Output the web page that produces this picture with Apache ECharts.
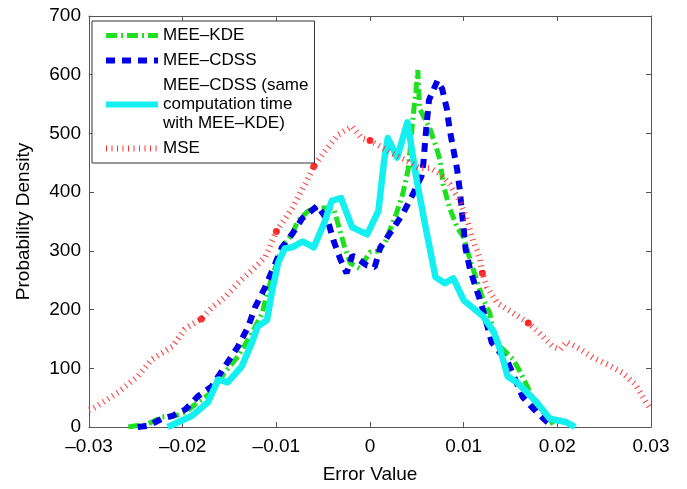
<!DOCTYPE html>
<html lang="en">

<head>
    <meta charset="UTF-8">
    <script src="https://cdn.jsdelivr.net/npm/echarts@6/dist/echarts.min.js"></script>
    <title>Error distribution</title>
    <style>
        html, body { margin: 0; padding: 0; background: #fff; }
        #myChart { width: 687px; height: 489px; }
    </style>
</head>

<body>
    <div id="myChart"></div>
    <script>
        // values
        var kdeX = [-0.0258, -0.0250, -0.0240, -0.0222, -0.0208, -0.0197, -0.0184, -0.0169, -0.0155, -0.0141, -0.0126, -0.0115, -0.0110, -0.0101, -0.0094, -0.0083, -0.0077, -0.0066, -0.0056, -0.0039, -0.0035, -0.0032, -0.0027, -0.0021, -0.0011, 0.0000, 0.0010, 0.0017, 0.0028, 0.0035, 0.0041, 0.0046, 0.0049, 0.0051, 0.0053, 0.0064, 0.0071, 0.0075, 0.0078, 0.0085, 0.0093, 0.0100, 0.0107, 0.0114, 0.0121, 0.0128, 0.0131, 0.0139, 0.0153, 0.0160, 0.0168, 0.0178, 0.0192, 0.0197];
        var kdeY = [0, 2, 3, 17, 19, 25, 42, 59, 93, 120, 160, 194, 228, 272, 306, 329, 351, 368, 373, 373, 351, 334, 306, 279, 270, 298, 300, 318, 363, 397, 441, 529, 571, 608, 542, 508, 475, 453, 414, 373, 340, 323, 284, 250, 216, 194, 166, 137, 115, 95, 69, 35, 14, 0];

        var cdssX = [-0.0248, -0.0237, -0.0222, -0.0211, -0.0197, -0.0184, -0.0169, -0.0155, -0.0141, -0.0130, -0.0123, -0.0112, -0.0101, -0.0094, -0.0083, -0.0072, -0.0056, -0.0045, -0.0039, -0.0032, -0.0025, -0.0019, -0.0011, -0.0003, 0.0005, 0.0011, 0.0023, 0.0035, 0.0045, 0.0051, 0.0055, 0.0057, 0.0059, 0.0061, 0.0063, 0.0072, 0.0077, 0.0082, 0.0085, 0.0089, 0.0093, 0.0096, 0.0098, 0.0100, 0.0102, 0.0107, 0.0114, 0.0120, 0.0130, 0.0147, 0.0163, 0.0178, 0.0195];
        var cdssY = [0, 2, 14, 19, 30, 52, 69, 103, 137, 171, 203, 238, 279, 306, 329, 356, 377, 351, 318, 287, 262, 292, 284, 275, 272, 306, 334, 363, 394, 414, 427, 449, 490, 524, 557, 590, 576, 542, 507, 473, 439, 402, 368, 338, 304, 267, 233, 203, 144, 111, 51, 25, 0];

        var sameX = [-0.0216, -0.0205, -0.0190, -0.0173, -0.0162, -0.0152, -0.0137, -0.0126, -0.0120, -0.0110, -0.0105, -0.0098, -0.0091, -0.0083, -0.0072, -0.0060, -0.0048, -0.0041, -0.0031, -0.0019, -0.0003, 0.0009, 0.0015, 0.0019, 0.0029, 0.0040, 0.0050, 0.0059, 0.0070, 0.0080, 0.0089, 0.0100, 0.0121, 0.0132, 0.0139, 0.0147, 0.0157, 0.0178, 0.0192, 0.0210, 0.0219];
        var sameY = [0, 8, 19, 42, 81, 76, 103, 144, 171, 182, 228, 280, 304, 306, 316, 306, 351, 385, 390, 340, 328, 368, 453, 492, 459, 519, 419, 343, 255, 245, 253, 216, 188, 162, 132, 86, 76, 42, 14, 8, 0];

        var mseX = [-0.0300, -0.0297, -0.0269, -0.0248, -0.0233, -0.0211, -0.0198, -0.0194, -0.0180, -0.0169, -0.0155, -0.0141, -0.0126, -0.0112, -0.0100, -0.0083, -0.0069, -0.0060, -0.0048, -0.0034, -0.0019, -0.0009, 0.0000, 0.0014, 0.0025, 0.0040, 0.0053, 0.0064, 0.0075, 0.0085, 0.0096, 0.0104, 0.0110, 0.0117, 0.0120, 0.0125, 0.0136, 0.0153, 0.0169, 0.0181, 0.0195, 0.0203, 0.0210, 0.0224, 0.0238, 0.0254, 0.0269, 0.0283, 0.0296, 0.0300];
        var mseY = [29, 30, 59, 86, 115, 137, 166, 171, 184, 203, 221, 245, 267, 289, 333, 373, 414, 444, 470, 498, 512, 492, 488, 475, 465, 453, 441, 441, 431, 414, 385, 351, 318, 289, 262, 238, 211, 194, 177, 160, 137, 132, 145, 133, 118, 106, 93, 73, 39, 30];
        // points of the MSE curve that carry a dot marker
        var mseMarkIdx = [8, 14, 17, 22, 34, 38];

        var names = ['MEE\u2013KDE', 'MEE\u2013CDSS', 'MEE\u2013CDSS (same\ncomputation time\nwith MEE\u2013KDE)', 'MSE'];

        function zip(xs, ys) {
            return xs.map(function (x, i) { return [x, ys[i]]; });
        }

        function tickLabel(v) {
            var r = Math.round(v * 100) / 100;
            if (r === 0) return '0';
            return (r < 0 ? '\u2013' : '') + Math.abs(r).toFixed(2);
        }

        var font = 'Liberation Sans, Arial, Helvetica, sans-serif';
        var axisColor = '#555';

        var green = '#1fe01f';
        var blue = '#0000e6';
        var cyan = '#14f0f0';
        var red = '#ff3535';

        var kdeDash = [11, 4, 2, 4];
        var cdssDash = [9, 7];
        var mseDash = [1, 4.5];

        var dom = document.getElementById('myChart');
        var myChart = echarts.init(dom, null, { renderer: 'canvas' });

        var hidden = { opacity: 0 };

        var option = {
            animation: false,
            backgroundColor: '#fff',
            grid: { left: 89, right: 36, top: 16, bottom: 61 },
            legend: {
                orient: 'vertical',
                left: 92,
                top: 21,
                padding: [5, 6, 5, 11],
                itemGap: 6,
                itemWidth: 52,
                itemHeight: 14,
                backgroundColor: '#fff',
                borderColor: '#333',
                borderWidth: 1,
                textStyle: { fontFamily: font, fontSize: 17, color: '#000', lineHeight: 19 },
                data: [
                    { name: names[0], itemStyle: hidden, lineStyle: { color: green, width: 5, type: kdeDash } },
                    { name: names[1], itemStyle: hidden, lineStyle: { color: blue, width: 6, type: cdssDash } },
                    { name: names[2], itemStyle: hidden, lineStyle: { color: cyan, width: 6, type: 'solid' } },
                    { name: names[3], itemStyle: hidden, lineStyle: { color: red, width: 6, type: mseDash } }
                ]
            },
            xAxis: [{
                type: 'value',
                min: -0.03,
                max: 0.03,
                interval: 0.01,
                name: 'Error Value',
                nameLocation: 'middle',
                nameGap: 38,
                nameTextStyle: { fontFamily: font, fontSize: 19, color: '#000' },
                axisLine: { show: true, onZero: false, lineStyle: { color: axisColor } },
                axisTick: { inside: true, length: 5, lineStyle: { color: axisColor } },
                axisLabel: { fontFamily: font, fontSize: 19, color: '#000', margin: 10, formatter: tickLabel },
                splitLine: { show: false }
            }, {
                type: 'value',
                position: 'top',
                min: -0.03,
                max: 0.03,
                interval: 0.01,
                axisLine: { show: true, onZero: false, lineStyle: { color: axisColor } },
                axisTick: { inside: true, length: 5, lineStyle: { color: axisColor } },
                axisLabel: { show: false },
                splitLine: { show: false }
            }],
            yAxis: [{
                type: 'value',
                min: 0,
                max: 700,
                interval: 100,
                name: 'Probability Density',
                nameLocation: 'middle',
                nameGap: 56,
                nameTextStyle: { fontFamily: font, fontSize: 19, color: '#000' },
                axisLine: { show: true, onZero: false, lineStyle: { color: axisColor } },
                axisTick: { inside: true, length: 5, lineStyle: { color: axisColor } },
                axisLabel: { fontFamily: font, fontSize: 19, color: '#000', margin: 8 },
                splitLine: { show: false }
            }, {
                type: 'value',
                position: 'right',
                min: 0,
                max: 700,
                interval: 100,
                axisLine: { show: true, onZero: false, lineStyle: { color: axisColor } },
                axisTick: { inside: true, length: 5, lineStyle: { color: axisColor } },
                axisLabel: { show: false },
                splitLine: { show: false }
            }],
            series: [{
                name: names[0],
                type: 'line',
                symbol: 'none',
                data: zip(kdeX, kdeY),
                lineStyle: { color: green, width: 5, type: kdeDash, cap: 'butt' },
                itemStyle: { color: green }
            }, {
                name: names[1],
                type: 'line',
                symbol: 'none',
                data: zip(cdssX, cdssY),
                lineStyle: { color: blue, width: 6, type: cdssDash, cap: 'butt' },
                itemStyle: { color: blue }
            }, {
                name: names[2],
                type: 'line',
                symbol: 'none',
                data: zip(sameX, sameY),
                lineStyle: { color: cyan, width: 6.5, join: 'round' },
                itemStyle: { color: cyan }
            }, {
                name: names[3],
                type: 'line',
                symbol: 'none',
                data: zip(mseX, mseY),
                lineStyle: { color: red, width: 6, type: mseDash, cap: 'butt' },
                itemStyle: { color: red }
            }, {
                name: 'mse-dots',
                type: 'scatter',
                symbolSize: 7,
                itemStyle: { color: '#ff0000' },
                data: mseMarkIdx.map(function (i) { return [mseX[i], mseY[i]]; }),
                z: 5
            }]
        };
        myChart.setOption(option);
    </script>
</body>

</html>
